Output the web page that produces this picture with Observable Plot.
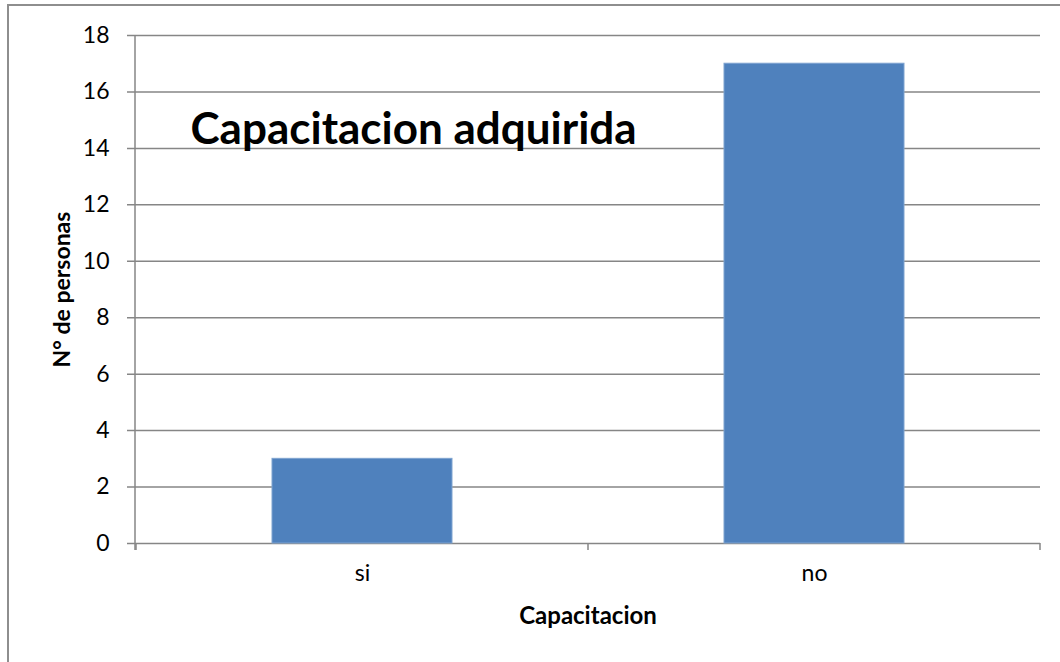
<!DOCTYPE html>
<html><head><meta charset="utf-8">
<script src="https://cdn.jsdelivr.net/npm/d3@7"></script>
<script src="https://cdn.jsdelivr.net/npm/@observablehq/plot@0.6"></script>
<style>
body{margin:0;background:#fff;}
#wrap{position:relative;width:1060px;height:662px;overflow:hidden;}
#wrap svg{position:absolute;left:0;top:0;}
#border{position:absolute;left:7px;top:4px;width:2000px;height:2000px;border-left:2px solid #8e8e8e;border-top:2px solid #8e8e8e;pointer-events:none;}
</style></head><body><div id="wrap"><div id="border"></div></div>
<script>
const categories = ["si", "no"];
const values = [3, 17];
const yTicks = [0, 2, 4, 6, 8, 10, 12, 14, 16, 18];
const title = "Capacitacion adquirida";
const xLabel = "Capacitacion";
const yLabel = "N° de personas";

const data = categories.map((c, i) => ({cat: c, value: values[i]}));
const grid = "#868686";

function axisLines(index, {x, y}, values, dims) {
  const g = d3.create("svg:g").attr("stroke", grid).attr("stroke-width", 1.5).attr("fill", "none");
  const x0 = dims.marginLeft, x1 = dims.width - dims.marginRight;
  const yb = y(0), yt = y(18);
  const bounds = categories.map(c => x(c)).concat([x1]);
  g.append("line").attr("x1", x0).attr("x2", x0).attr("y1", yt).attr("y2", yb + 7);
  for (const bx of bounds) {
    g.append("line").attr("x1", bx).attr("x2", bx).attr("y1", yb).attr("y2", yb + 7);
  }
  return g.node();
}

const chart = Plot.plot({
  width: 1060, height: 662,
  marginLeft: 135, marginRight: 20, marginTop: 35, marginBottom: 119,
  style: {fontFamily: "Lato, sans-serif", fontSize: "22px", color: "#000", background: "transparent"},
  x: {domain: categories, padding: 0},
  y: {domain: [0, 18]},
  marks: [
    Plot.ruleY(yTicks, {stroke: grid, strokeWidth: 1.5, strokeOpacity: 1, insetLeft: -8}),
    Plot.barY(data, {x: "cat", y: "value", fill: "#4F81BD", stroke: "#7EA3D0", strokeWidth: 1, insetLeft: 136, insetRight: 136}),
    axisLines,
    Plot.axisY({ticks: yTicks, tickSize: 0, tickPadding: 26, fontSize: 23, label: null, fill: "#000"}),
    Plot.axisX({tickSize: 0, tickPadding: 21, fontSize: 23, label: null, fill: "#000"}),
    Plot.text([title], {frameAnchor: "top-left", dx: 55, dy: 94, textAnchor: "start", lineAnchor: "middle", fontWeight: "bold", fontSize: 44, fill: "#000"}),
    Plot.text([xLabel], {frameAnchor: "bottom", dy: 73, lineAnchor: "middle", fontWeight: "bold", fontSize: 24, fill: "#000"}),
    Plot.text([yLabel], {frameAnchor: "left", dx: -73, rotate: -90, textAnchor: "middle", lineAnchor: "middle", fontWeight: "bold", fontSize: 23, fill: "#000"})
  ]
});
document.getElementById("wrap").appendChild(chart);
</script>
</body></html>
